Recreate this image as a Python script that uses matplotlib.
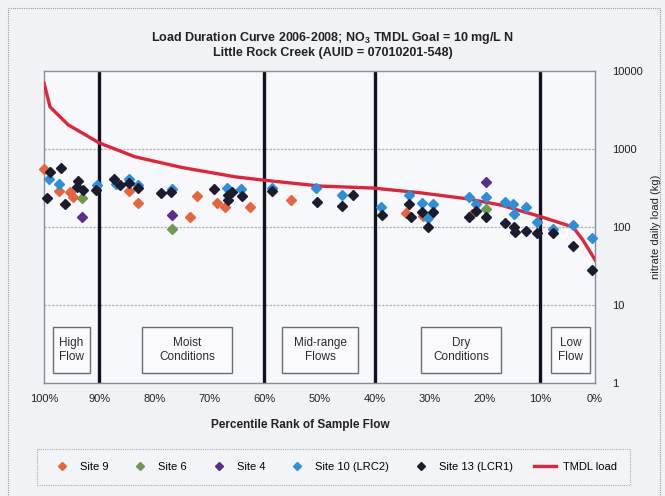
import matplotlib
matplotlib.use("Agg")
import matplotlib.pyplot as plt
from matplotlib.patches import Rectangle
from matplotlib.lines import Line2D

plt.rcParams['font.family'] = ['Liberation Sans', 'DejaVu Sans']
plt.rcParams['mathtext.default'] = 'regular'

# ---------------- data ----------------
tmdl_pct = [100, 98.9, 95.6, 90, 83.5, 75, 65.3, 60.3, 49.9, 40.3, 31.8, 23.2, 17.2, 10.2, 4.0, 2.2, 0]
tmdl_load = [7000, 3460, 2040, 1200, 795, 580, 440, 400, 335, 316, 275, 230, 192, 138, 100, 68, 38]

site9_pct = [100, 97.3, 95.3, 94.7, 84.6, 82.9, 72.2, 73.5, 68.6, 67.2, 62.6, 55.2, 34.3, 31.2, 22.3]
site9_load = [556, 290, 282, 242, 290, 203, 250, 134, 203, 181, 181, 222, 150, 138, 146]

site6_pct = [93.1, 76.8, 19.8]
site6_load = [235, 94, 170]

site4_pct = [93.1, 76.8, 19.8]
site4_load = [134, 142, 377]

site10_pct = [99.1, 97.3, 90.4, 86.9, 84.6, 82.9, 76.8, 66.8, 64.2, 58.6, 50.6, 45.9, 38.8,
              33.8, 31.4, 29.4, 30.3, 22.9, 21.6, 19.8, 16.3, 14.9, 14.7, 12.5, 10.5, 7.6, 4.0, 0.5]
site10_load = [415, 355, 345, 355, 415, 350, 307, 316, 307, 316, 316, 258, 181,
               258, 203, 197, 130, 242, 197, 242, 209, 197, 146, 181, 115, 94, 106, 72]

site13_pct = [98.9, 96.9, 99.5, 96.2, 93.8, 94.0, 92.9, 90.6, 87.3, 86.2, 84.6, 82.9, 78.8, 77.0,
              69.1, 66.6, 65.9, 66.6, 64.1, 58.6, 50.5, 45.9, 43.9, 38.7, 33.8, 33.4, 31.4, 29.4,
              30.3, 22.9, 21.6, 19.8, 16.3, 14.7, 14.5, 12.5, 10.5, 7.6, 4.0, 0.5]
site13_load = [510, 570, 235, 197, 390, 325, 297, 297, 415, 345, 366, 315, 273, 281,
               307, 258, 281, 222, 250, 290, 209, 186, 258, 142, 197, 134, 155, 155,
               100, 134, 160, 134, 112, 100, 86, 88, 84, 84, 57, 28]

zone_bounds = [90, 60, 40, 10]
zone_labels = ["High\nFlow", "Moist\nConditions", "Mid-range\nFlows", "Dry\nConditions", "Low\nFlow"]
zone_box_x = [(98.4, 91.7), (82.2, 65.9), (56.8, 43.0), (31.6, 17.1), (8.0, 0.9)]

x_ticks = [100, 90, 80, 70, 60, 50, 40, 30, 20, 10, 0]
x_ticklabels = ["100%", "90%", "80%", "70%", "60%", "50%", "40%", "30%", "20%", "10%", "0%"]
y_ticks = [1, 10, 100, 1000, 10000]
y_ticklabels = ["1", "10", "100", "1000", "10000"]

series = [
    ("Site 9", site9_pct, site9_load, "#e8643c"),
    ("Site 6", site6_pct, site6_load, "#6e9a50"),
    ("Site 4", site4_pct, site4_load, "#5a2d8a"),
    ("Site 10 (LRC2)", site10_pct, site10_load, "#2b8fdc"),
    ("Site 13 (LCR1)", site13_pct, site13_load, "#1b1d2e"),
]

# ---------------- figure ----------------
fig = plt.figure(figsize=(6.65, 4.96), dpi=100, facecolor="#f1f2f6")
ax = fig.add_axes([0.0662, 0.2278, 0.8286, 0.6290])
ax.set_facecolor("#f7f8fb")

# outer chart border
fig.patches.append(Rectangle((0.012, -0.02), 0.981, 1.004, transform=fig.transFigure,
                             fill=False, edgecolor="#9a9aa6", linestyle=(0, (1, 1)), lw=0.8))

ax.set_yscale("log")
ax.set_ylim(1, 10000)
ax.set_xlim(100, 0)

for yv in [10, 100, 1000]:
    ax.axhline(yv, color="#b0b2c0", lw=0.9, linestyle=(0, (2, 1)), zorder=1)

for xb in zone_bounds:
    ax.axvline(xb, color="#10131f", lw=2.4, zorder=2)

ax.plot(tmdl_pct, tmdl_load, color="#e0243c", lw=2.4, zorder=3)

for name, px, py, col in series:
    ax.plot(px, py, linestyle="none", marker="D", markersize=5, color=col,
            markeredgecolor=col, zorder=4, clip_on=False)

for (x0, x1), lab in zip(zone_box_x, zone_labels):
    ax.add_patch(Rectangle((x1, 0.032), x0 - x1, 0.147,
                           transform=ax.get_xaxis_transform(), fill=True,
                           facecolor="#fafafc", edgecolor="#6a6a78", lw=1.0, zorder=5))
    ax.text((x0 + x1) / 2, 0.1055, lab, transform=ax.get_xaxis_transform(),
            ha="center", va="center", fontsize=8.5, color="#2a2a36", linespacing=1.15, zorder=6)

ax.set_xticks(x_ticks)
ax.set_xticklabels(x_ticklabels, fontsize=8, color="#222")
ax.yaxis.tick_right()
ax.set_yticks(y_ticks)
ax.set_yticklabels(y_ticklabels, fontsize=8, color="#222")
ax.yaxis.set_minor_locator(matplotlib.ticker.NullLocator())
ax.tick_params(axis="both", length=0)
ax.tick_params(axis="x", pad=8)
ax.tick_params(axis="y", pad=12)

ax.yaxis.set_label_position("right")
ax.set_ylabel("nitrate daily load (kg)", fontsize=8, color="#222", labelpad=6)

for sp in ax.spines.values():
    sp.set_color("#8a8c9a")
    sp.set_linewidth(1.0)

fig.text(0.452, 0.143, "Percentile Rank of Sample Flow", ha="center", va="center",
         fontsize=8.5, fontweight="bold", color="#222")

fig.text(0.50, 0.923, "Load Duration Curve 2006-2008; NO$_3$ TMDL Goal = 10 mg/L N",
         ha="center", va="center", fontsize=9, fontweight="bold", color="#222")
fig.text(0.50, 0.893, "Little Rock Creek (AUID = 07010201-548)",
         ha="center", va="center", fontsize=9, fontweight="bold", color="#222")

handles = [Line2D([], [], linestyle="none", marker="D", markersize=4, color=c) for _, _, _, c in series]
handles.append(Line2D([], [], color="#e0243c", lw=2.4))
labels = [s[0] for s in series] + ["TMDL load"]
leg = fig.legend(handles, labels, loc="center", ncol=6, mode="expand",
                 bbox_to_anchor=(0.048, 0.012, 0.908, 0.093), fontsize=8,
                 frameon=True, handlelength=2.0, handletextpad=0.6, borderpad=1.2)
frame = leg.get_frame()
frame.set_edgecolor("#9a9aa6")
frame.set_linestyle((0, (1, 1)))
frame.set_facecolor("#f4f5f8")
frame.set_boxstyle("square", pad=0)
frame.set_linewidth(0.8)

fig.savefig("out.png", dpi=100, facecolor=fig.get_facecolor())
